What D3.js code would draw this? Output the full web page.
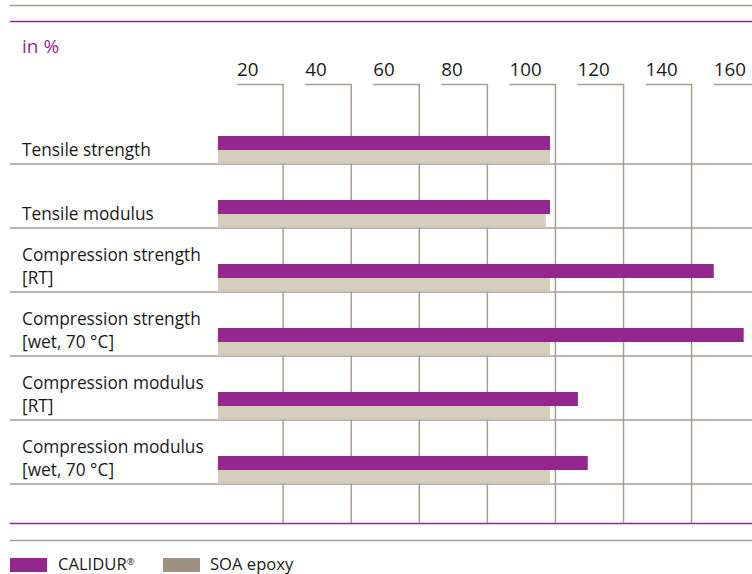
<!DOCTYPE html>
<html>
<head>
<meta charset="utf-8">
<script src="https://cdn.jsdelivr.net/npm/d3@7"></script>
<style>
  body { margin: 0; background: #fff; }
  svg { display: block; font-family: "Open Sans", sans-serif; }
</style>
</head>
<body>
<svg id="chart" width="752" height="574"></svg>
<script>
// data
const categories = [
    ["Tensile strength"],
    ["Tensile modulus"],
    ["Compression strength", "[RT]"],
    ["Compression strength", "[wet, 70 °C]"],
    ["Compression modulus", "[RT]"],
    ["Compression modulus", "[wet, 70 °C]"]
];
const calidur = [98.4, 98.4, 146.5, 155.3, 106.6, 109.5];
const soaEpoxy = [98.4, 97.2, 98.4, 98.4, 98.4, 98.4];
const tickValues = [20, 40, 60, 80, 100, 120, 140, 160];
const seriesNames = ["CALIDUR", "SOA epoxy"];

const purple = "#93278f";
const beige = "#d7cdbf";
const swatchBeige = "#a09282";
const lineGray = "#aa9d92";

const svg = d3.select("#chart");

const x = d3.scaleLinear().domain([0, 160]).range([215, 759.7]);
const keys = categories.map((c, i) => i);
const y = d3.scaleBand().domain(keys).range([100, 484]).padding(0);

// top / bottom rules
const rules = [[5, lineGray], [21, purple], [523, purple], [540, lineGray]];
svg.append("g").selectAll("line")
    .data(rules)
    .enter().append("line")
        .attr("x1", 10).attr("x2", 752)
        .attr("y1", d => d[0] + 0.5).attr("y2", d => d[0] + 0.5)
        .attr("stroke", d => d[1])
        .attr("stroke-width", 1.3);

svg.append("text")
    .attr("x", 22).attr("y", 53)
    .attr("fill", purple)
    .style("font-size", "19px")
    .text("in %");

// row separators
svg.append("g").selectAll("line")
    .data(keys)
    .enter().append("line")
        .attr("x1", 10).attr("x2", 752)
        .attr("y1", d => y(d) + y.bandwidth())
        .attr("y2", d => y(d) + y.bandwidth())
        .attr("stroke", lineGray)
        .attr("stroke-width", 1.5);

// gridlines with their label brackets
const grid = svg.append("g").selectAll("g")
    .data(tickValues)
    .enter().append("g");

grid.append("path")
    .attr("d", d => "M" + (x(d) - 46) + ",84.5H" + x(d) + "V523")
    .attr("fill", "none")
    .attr("stroke", lineGray)
    .attr("stroke-width", 1.5);

grid.append("text")
    .attr("x", d => x(d) - 46)
    .attr("y", 76)
    .attr("fill", "#1a1a1a")
    .style("font-size", "18.8px")
    .text(d => d);

// bars
const barStart = x(0) + 3;
svg.append("g").selectAll("rect")
    .data(keys)
    .enter().append("rect")
        .attr("x", barStart)
        .attr("y", d => y(d) + 36)
        .attr("width", d => x(calidur[d]) - barStart)
        .attr("height", 14)
        .attr("fill", purple);

svg.append("g").selectAll("rect")
    .data(keys)
    .enter().append("rect")
        .attr("x", barStart)
        .attr("y", d => y(d) + 50)
        .attr("width", d => x(soaEpoxy[d]) - barStart)
        .attr("height", 13.5)
        .attr("fill", beige);

// category labels, bottom aligned in each row
const labels = svg.append("g").selectAll("text")
    .data(keys)
    .enter().append("text")
        .attr("fill", "#1a1a1a")
        .style("font-size", "17.3px");

labels.selectAll("tspan")
    .data(d => categories[d].map((t, j) => ({ t: t, j: j, n: categories[d].length, row: d })))
    .enter().append("tspan")
        .attr("x", 22)
        .attr("y", d => y(d.row) + y.bandwidth() - 8.5 - (d.n - 1 - d.j) * 23)
        .text(d => d.t);

// legend
const legend = svg.append("g");
legend.append("rect").attr("x", 10).attr("y", 558).attr("width", 37).attr("height", 14).attr("fill", purple);
const l1 = legend.append("text").attr("x", 58).attr("y", 570).attr("fill", "#1a1a1a").style("font-size", "16.6px");
l1.append("tspan").text(seriesNames[0]);
l1.append("tspan").attr("dy", -5).style("font-size", "9.5px").text("®");
legend.append("rect").attr("x", 163).attr("y", 558).attr("width", 37).attr("height", 14).attr("fill", swatchBeige);
legend.append("text").attr("x", 210).attr("y", 570).attr("fill", "#1a1a1a").style("font-size", "16.6px").text(seriesNames[1]);
</script>
</body>
</html>
